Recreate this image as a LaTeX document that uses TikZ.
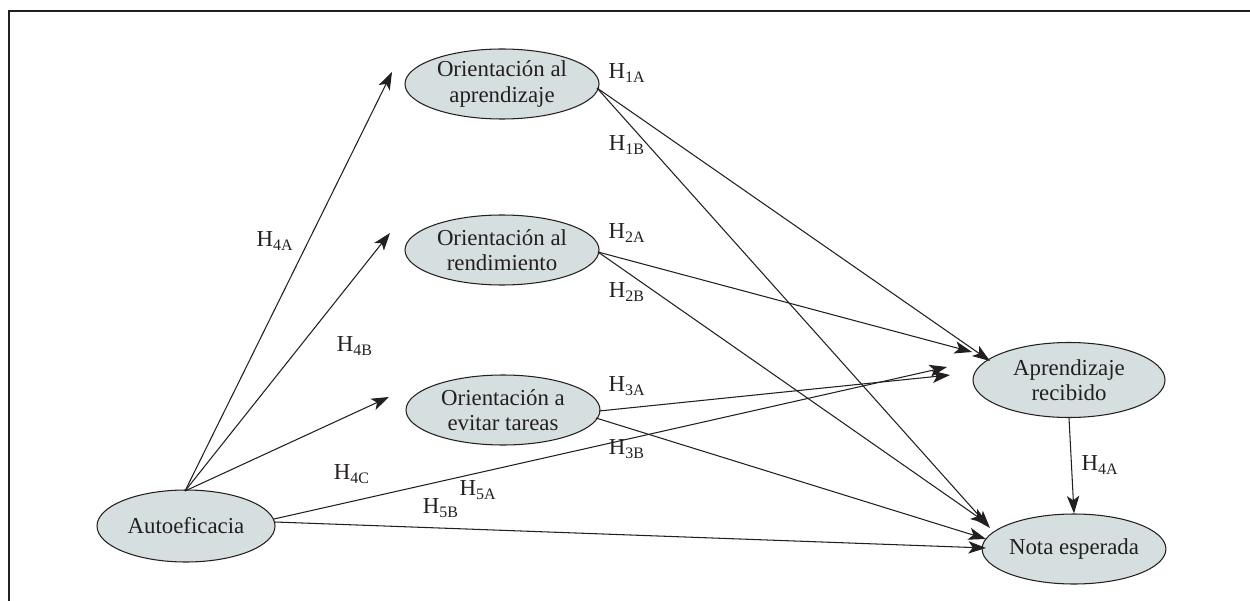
\documentclass[tikz,border=0pt]{standalone}
\usepackage{fontspec}
\setmainfont{Liberation Serif}
\usetikzlibrary{arrows.meta,shapes.geometric}
\definecolor{ellfill}{HTML}{D5DFDF}
\definecolor{txt}{HTML}{231F20}
\begin{document}
\begin{tikzpicture}[x=0.02cm,y=-0.02cm,
  var/.style={ellipse,draw=txt,line width=0.6pt,fill=ellfill,inner sep=0pt,
     minimum width=#1*0.02cm,minimum height=70*0.02cm,align=center,
     font=\fontsize{13}{14.5}\selectfont,text=txt},
  var/.default=194,
  arr/.style={draw=txt,line width=0.6pt,-{Stealth[length=10pt,width=7pt,inset=2.5pt]}},
  hl/.style={font=\fontsize{13}{14}\selectfont,text=txt,inner sep=0pt}]
\useasboundingbox (0,0) rectangle (1250,601);
\draw[line width=0.9pt,color=txt] (9,601) -- (9,11) -- (1250,11);
\node[var=194] (oa) at (502,84) {Orientación al\\aprendizaje};
\node[var=194] (or) at (502,250) {Orientación al\\rendimiento};
\node[var=194] (oe) at (503,410) {Orientación a\\evitar tareas};
\node[var=178,minimum height=72*0.02cm] (au) at (186,526) {Autoeficacia};
\node[var=192,minimum height=75*0.02cm] (ar) at (1069,380) {Aprendizaje\\recibido};
\node[var=178] (ne) at (1074,549) {Nota esperada};
% start points on the ellipses
\coordinate (auT) at (185,491);
\coordinate (auR1) at (274,519);
\coordinate (auR2) at (275,522);
\coordinate (oaR) at (597,88);
\coordinate (orR) at (598,252);
\coordinate (oeR1) at (599,411);
\coordinate (oeR2) at (596,418);
% end points
\coordinate (eOA) at (392,72);
\coordinate (eOR) at (390,233);
\coordinate (eOE) at (389,397);
\coordinate (eAR1) at (990,361);
\coordinate (eAR2) at (972,352);
\coordinate (eAR3) at (950,375);
\coordinate (eAR4) at (947,367);
\coordinate (eNE1) at (990,528);
\coordinate (eNE2) at (988,524);
\coordinate (eNE3) at (986,539);
\coordinate (eNE4) at (986,548);
% arrows from Autoeficacia
\draw[arr] (auT) -- (eOA);
\draw[arr] (auT) -- (eOR);
\draw[arr] (auT) -- (eOE);
\draw[arr] (auR1) -- (eAR4);
\draw[arr] (auR2) -- (eNE4);
% from the orientations
\draw[arr] (oaR) -- (eAR1);
\draw[arr] (oaR) -- (eNE1);
\draw[arr] (orR) -- (eAR2);
\draw[arr] (orR) -- (eNE2);
\draw[arr] (oeR1) -- (eAR3);
\draw[arr] (oeR2) -- (eNE3);
% AR to NE
\draw[arr] (ar.south) -- (ne.north);
% labels
\node[hl] (h1a) at (627,73) {H\textsubscript{1A}};
\node[hl] (h1b) at (627,145) {H\textsubscript{1B}};
\node[hl] (h2a) at (627,233) {H\textsubscript{2A}};
\node[hl] (h2b) at (627,292) {H\textsubscript{2B}};
\node[hl] (h3a) at (627,386) {H\textsubscript{3A}};
\node[hl] (h3b) at (627,449) {H\textsubscript{3B}};
\node[hl] (h4a) at (275,241) {H\textsubscript{4A}};
\node[hl] (h4b) at (355,346) {H\textsubscript{4B}};
\node[hl] (h4c) at (352,474) {H\textsubscript{4C}};
\node[hl] (h5a) at (478,490) {H\textsubscript{5A}};
\node[hl] (h5b) at (441,508) {H\textsubscript{5B}};
\node[hl] (h4a2) at (1100,465) {H\textsubscript{4A}};
\end{tikzpicture}
\end{document}
